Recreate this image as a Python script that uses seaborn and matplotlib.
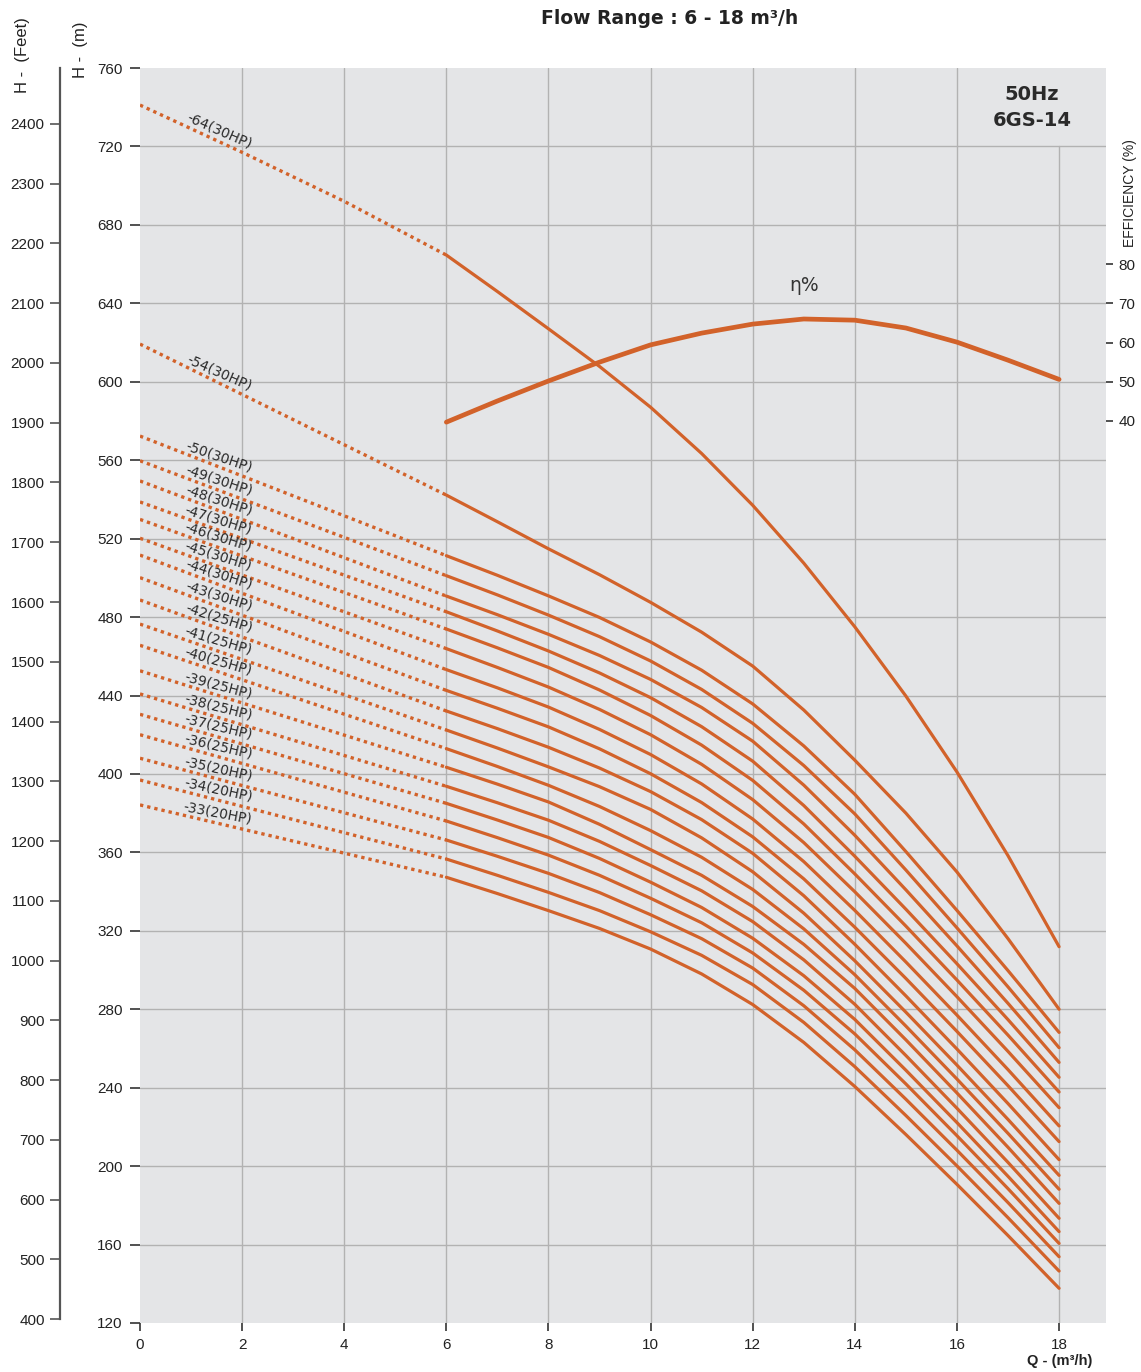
import numpy as np
import pandas as pd
import seaborn as sns
import matplotlib.pyplot as plt

# 6GS-14 pump curves, 50Hz
stages = [64, 54, 50, 49, 48, 47, 46, 45, 44, 43, 42, 41, 40, 39, 38, 37, 36, 35, 34, 33]
motor_hp = [30, 30, 30, 30, 30, 30, 30, 30, 30, 30, 25, 25, 25, 25, 25, 25, 25, 20, 20, 20]

# head at Q=0 (start of the dotted part)
shutoff_head = [741.1, 619.2, 572.3, 559.7, 549.4, 538.7, 529.8, 520.2, 511.6, 500.1,
                488.7, 476.4, 465.6, 452.6, 440.8, 430.4, 420.0, 408.0, 396.9, 384.2]
# the 64 stage dotted part bends a little
q_dot_64 = [0, 2, 4, 6]
h_dot_64 = [741.1, 717.0, 692.0, 664.6]

# working range, solid part (Q = 6..18)
q_curve = [6, 7, 8, 9, 10, 11, 12, 13, 14, 15, 16, 17, 18]
head_curve = [
    [664.6, 646.0, 627.0, 607.8, 587.0, 563.4, 537.0, 507.5, 475.0, 439.7, 401.0, 358.3, 311.9],
    [542.2, 528.6, 514.8, 501.6, 487.5, 472.3, 455.0, 432.6, 407.0, 380.0, 350.0, 316.0, 280.0],
    [511.3, 501.3, 490.8, 479.8, 467.3, 452.9, 435.7, 414.3, 389.6, 360.4, 330.4, 299.7, 268.2],
    [501.1, 491.3, 481.0, 470.0, 457.6, 443.1, 425.8, 404.3, 379.6, 351.0, 321.5, 291.4, 260.4],
    [490.7, 481.2, 471.2, 460.4, 448.2, 433.9, 416.7, 394.3, 368.7, 340.9, 312.3, 283.0, 252.9],
    [482.7, 472.9, 462.7, 451.5, 438.9, 424.1, 406.5, 383.9, 358.0, 331.0, 303.2, 274.7, 245.3],
    [473.9, 464.3, 454.3, 442.8, 429.8, 414.7, 396.7, 374.5, 349.0, 322.4, 294.9, 266.8, 237.8],
    [463.9, 454.3, 444.3, 432.9, 420.0, 404.9, 386.9, 365.0, 339.9, 313.6, 286.4, 258.5, 229.8],
    [453.2, 443.9, 434.1, 422.7, 409.9, 394.9, 377.0, 355.3, 330.4, 304.1, 277.0, 249.2, 220.5],
    [442.6, 433.5, 424.0, 412.8, 400.1, 385.4, 367.9, 346.5, 321.8, 295.7, 268.7, 241.0, 212.5],
    [432.1, 423.1, 413.6, 403.0, 391.0, 376.7, 359.5, 337.9, 313.1, 286.8, 259.7, 231.9, 203.3],
    [422.4, 413.2, 403.6, 393.5, 381.9, 367.4, 350.1, 329.0, 304.7, 278.5, 251.5, 223.8, 195.3],
    [412.9, 403.8, 394.2, 383.4, 371.1, 357.5, 341.1, 321.0, 297.6, 271.4, 244.4, 216.7, 188.2],
    [403.4, 394.8, 385.7, 374.3, 361.4, 348.3, 332.4, 313.1, 290.6, 264.4, 237.3, 209.6, 181.0],
    [393.7, 385.3, 376.4, 365.6, 353.3, 340.4, 324.7, 305.2, 282.5, 256.4, 229.5, 201.9, 173.4],
    [385.0, 376.5, 367.6, 356.9, 344.8, 331.9, 316.2, 297.1, 274.8, 248.9, 222.2, 194.8, 166.6],
    [376.0, 367.5, 358.6, 348.3, 336.6, 324.1, 308.7, 289.7, 267.4, 241.9, 215.5, 188.5, 160.6],
    [366.3, 358.0, 349.3, 339.5, 328.2, 316.0, 301.0, 281.8, 259.3, 234.1, 208.1, 181.4, 153.8],
    [356.6, 348.3, 339.6, 330.3, 319.5, 307.5, 292.6, 273.3, 250.7, 225.8, 200.1, 173.7, 146.5],
    [347.3, 339.0, 330.3, 321.2, 310.7, 298.0, 282.4, 263.1, 240.6, 216.1, 190.7, 164.6, 137.7],
]

# efficiency curve
q_eff = [6, 7, 8, 9, 10, 11, 12, 13, 14, 15, 16, 17, 18]
eff = [39.7, 45.1, 50.2, 55.0, 59.4, 62.4, 64.7, 66.0, 65.7, 63.7, 60.1, 55.5, 50.6]

ft_ticks = list(range(400, 2500, 100))
m_ticks = list(range(120, 800, 40))
q_ticks = list(range(0, 20, 2))
eff_ticks = [40, 50, 60, 70, 80]

C = '#d2622a'
BG = '#e4e5e7'
GRID = '#b2b2b2'
TXT = '#222222'

sns.set_style("darkgrid", {"axes.facecolor": BG})
plt.rcParams['font.family'] = ['Liberation Sans', 'DejaVu Sans']

W, H = 1141, 1372
fig = plt.figure(figsize=(W / 100, H / 100), dpi=100)
ax = fig.add_axes([140 / W, 1 - 1323 / H, 966 / W, 1255 / H])
ax.set_xlim(0, 966 / 51.06)
ax.set_ylim(120, 760)
ax.set_xticks(q_ticks)
ax.set_yticks(m_ticks)
ax.grid(False)
for sp in ax.spines.values():
    sp.set_visible(False)
ax.tick_params(axis='x', bottom=True, length=6, width=1.2, color='#333', pad=5,
               labelsize=11, labelcolor=TXT)
ax.tick_params(axis='y', left=True, length=7.5, width=1.2, color='#333', pad=5,
               labelsize=11, labelcolor=TXT)

# grid only inside the frame; the Q=18 line stops under the model name
for v in m_ticks[1:-1]:
    ax.axhline(v, color=GRID, lw=1.0, zorder=1)
for q in q_ticks[1:]:
    top = (720 - 120) / 640 if q == 18 else 1
    ax.axvline(q, ymax=top, color=GRID, lw=1.0, zorder=1)

for i, s in enumerate(stages):
    if s == 64:
        dq, dh = q_dot_64, h_dot_64
    else:
        dq, dh = [0, 6], [shutoff_head[i], head_curve[i][0]]
    sns.lineplot(x=dq, y=dh, ax=ax, color=C, lw=2.4, linestyle=(0, (1, 1.2)), zorder=3)
    sns.lineplot(x=q_curve, y=head_curve[i], ax=ax, color=C, lw=2.3, zorder=3)

    # stage label along the dotted line
    p1 = ax.transData.transform((dq[0], dh[0]))
    p2 = ax.transData.transform((dq[-1], dh[-1]))
    ang = np.degrees(np.arctan2(p2[1] - p1[1], p2[0] - p1[0])) + 2.5
    ql = 1.5
    hl = np.interp(ql, dq, dh)
    ax.annotate(f'-{s}({motor_hp[i]}HP)', (ql, hl), xytext=(0, 2), textcoords='offset points',
                rotation=ang, rotation_mode='anchor', ha='center', va='bottom',
                fontsize=10, color='#2a2a2a', family='DejaVu Sans', zorder=4)
ax.set_xlabel('')
ax.set_ylabel('')

# efficiency on a twin axis
ax2 = ax.twinx()
ax2.set_ylim((120 - 500) / 2, (760 - 500) / 2)
sns.lineplot(x=q_eff, y=eff, ax=ax2, color=C, lw=3.4)
ax2.grid(False)
ax2.set_yticks(eff_ticks)
for sp in ax2.spines.values():
    sp.set_visible(False)
ax2.tick_params(axis='y', right=True, left=False, labelright=True, labelleft=False,
                length=5, width=1.2, color='#333', pad=4, labelsize=11, labelcolor=TXT)
ax2.set_ylabel('')
ax2.text(13.0, 74.5, 'η%', ha='center', va='center', fontsize=13.5, color='#333',
         family='DejaVu Sans')

# feet scale on the far left
ftax = ax.secondary_yaxis(-80 / 966, functions=(lambda m: m * 3.28084, lambda f: f / 3.28084))
ftax.set_yticks(ft_ticks)
ftax.spines['left'].set_visible(True)
ftax.spines['left'].set_color('#555')
ftax.spines['left'].set_linewidth(1.6)
ftax.spines['left'].set_bounds(400, 760 * 3.28084)
ftax.tick_params(axis='y', left=True, length=7, width=1.2, color='#555', pad=4,
                 labelsize=11, labelcolor=TXT)

def ftext(x, y, s, **kw):
    fig.text(x / W, 1 - y / H, s, **kw)

ftext(670, 18, 'Flow Range : 6 - 18 m³/h', ha='center', va='center', fontsize=13.5,
      fontweight='bold', color=TXT, family='DejaVu Sans')
ftext(23, 55, 'H -  (Feet)', rotation=90, ha='center', va='center', fontsize=12, color=TXT)
ftext(81, 50, 'H -  (m)', rotation=90, ha='center', va='center', fontsize=12, color=TXT)
ftext(1130, 193, 'EFFICIENCY (%)', rotation=90, ha='center', va='center', fontsize=10,
      color=TXT)
ftext(1092, 1361, 'Q - (m³/h)', ha='right', va='center', fontsize=10.5, fontweight='bold',
      color=TXT)
ftext(1032, 94, '50Hz', ha='center', va='center', fontsize=14, fontweight='bold',
      color='#2a2a2a', family='DejaVu Sans')
ftext(1032, 120, '6GS-14', ha='center', va='center', fontsize=14, fontweight='bold',
      color='#2a2a2a', family='DejaVu Sans')

fig.savefig('out.png', dpi=100)
